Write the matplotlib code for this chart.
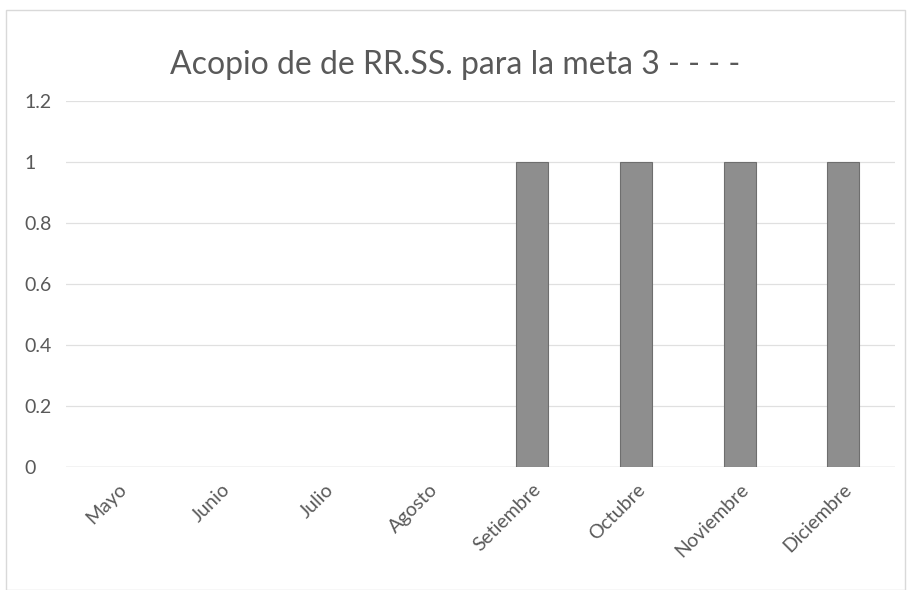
import matplotlib
matplotlib.use('Agg')
import matplotlib.pyplot as plt
from matplotlib.patches import Rectangle
import numpy as np

meses = ['Mayo', 'Junio', 'Julio', 'Agosto', 'Setiembre', 'Octubre', 'Noviembre', 'Diciembre']
valores = [0, 0, 0, 0, 1, 1, 1, 1]
yticks = [0, 0.2, 0.4, 0.6, 0.8, 1, 1.2]
ytick_labels = ['0', '0.2', '0.4', '0.6', '0.8', '1', '1.2']

plt.rcParams['font.family'] = ['Lato', 'DejaVu Sans']
txt = '#595959'

fig = plt.figure(figsize=(9.11, 5.90), dpi=100)
ax = fig.add_axes([66/911, 1 - 467/590, (895 - 66)/911, (467 - 101)/590])

x = np.arange(len(meses))
edges = ['#6e6e6e' if v > 0 else 'none' for v in valores]
ax.bar(x, valores, width=0.31, color='#8e8e8e', edgecolor=edges, linewidth=0.8, zorder=3)

ax.set_xlim(-0.5, len(meses) - 0.5)
ax.set_ylim(0, 1.2)
ax.set_yticks(yticks)
ax.set_yticklabels(ytick_labels)
ax.set_xticks(x)
ax.set_xticklabels(meses, rotation=45, ha='right', rotation_mode='anchor')
ax.tick_params(axis='both', length=0, colors=txt, labelsize=14)
ax.tick_params(axis='x', pad=10)
ax.tick_params(axis='y', pad=30)
for lbl in ax.get_yticklabels():
    lbl.set_horizontalalignment('left')
ax.grid(axis='y', color='#e0e0e0', linewidth=0.9, zorder=0)
for s in ax.spines.values():
    s.set_visible(False)
ax.axhline(0, color='#d4d4d4', linewidth=1.0, zorder=2)

fig.text(0.5, 1 - 65/590, 'Acopio de de RR.SS. para la meta 3 - - - -',
         ha='center', va='center', fontsize=23, color=txt)

fig.patches.append(Rectangle((6/911, 0), 899/911, 1 - 10/590, transform=fig.transFigure,
                             fill=False, edgecolor='#d9d9d9', linewidth=1.0))

fig.savefig('out.png', dpi=100)
